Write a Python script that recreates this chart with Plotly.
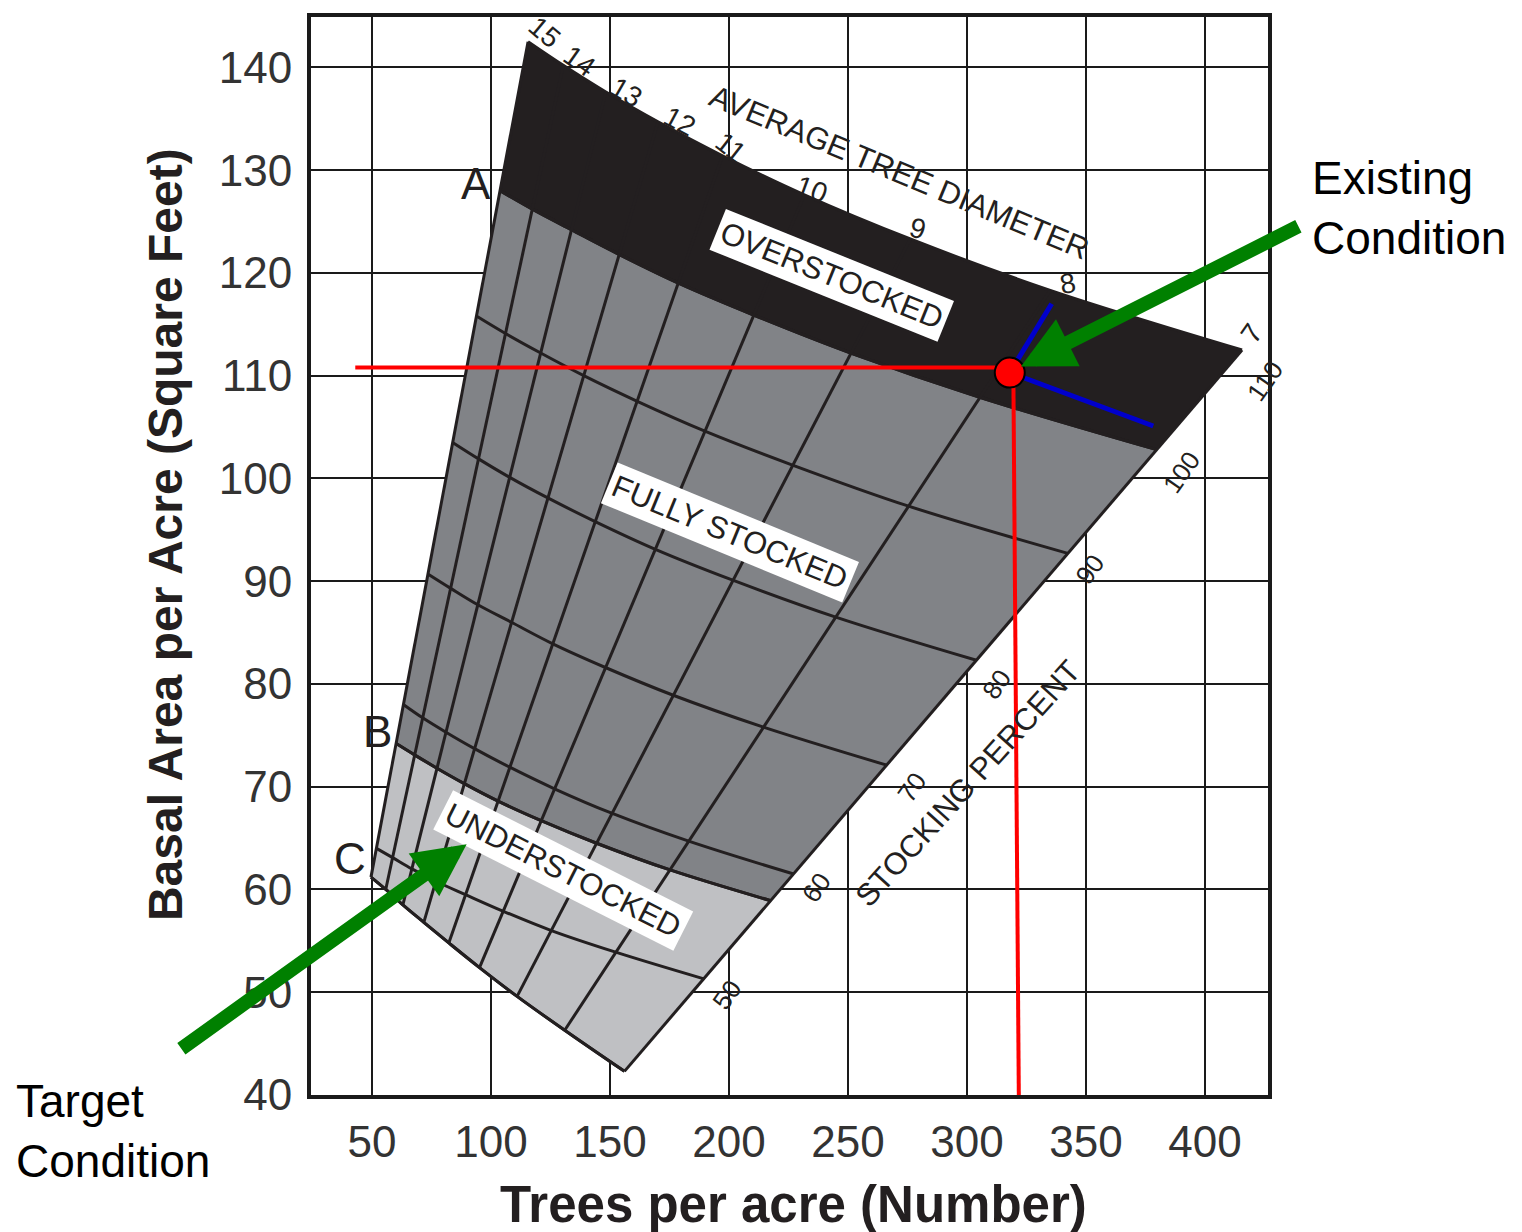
import plotly.graph_objects as go

# ---------------- data ----------------
diameters = [15, 14, 13, 12, 11, 10, 9, 8, 7]

# stocking curves: trees per acre (n_*) and basal area (ba_*) at each diameter line
n_110 = [115.6, 130.4, 148.3, 170.2, 197.3, 231.7, 276.2, 335.0, 415.6]
ba_110 = [142.5, 140.2, 137.6, 134.7, 131.4, 127.6, 123.3, 118.3, 112.5]
n_100 = [103.8, 117.4, 133.8, 153.8, 178.8, 210.4, 251.2, 305.4, 379.7]
ba_100 = [128.0, 126.2, 124.2, 121.8, 119.0, 115.9, 112.2, 107.9, 102.8]
n_90 = [93.9, 106.1, 120.9, 139.0, 161.5, 189.9, 226.7, 275.5, 342.4]
ba_90 = [115.8, 114.1, 112.2, 110.0, 107.5, 104.6, 101.3, 97.3, 92.7]
n_80 = [83.9, 94.8, 107.9, 123.9, 143.8, 169.1, 201.6, 244.9, 304.0]
ba_80 = [103.5, 101.9, 100.1, 98.1, 95.8, 93.1, 90.1, 86.5, 82.3]
n_70 = [73.5, 83.1, 94.5, 108.6, 126.0, 148.1, 176.6, 214.5, 266.3]
ba_70 = [90.7, 89.3, 87.7, 86.0, 83.9, 81.6, 78.9, 75.8, 72.1]
n_60 = [63.2, 71.3, 81.1, 93.1, 107.9, 126.7, 151.0, 183.1, 227.2]
ba_60 = [78.0, 76.7, 75.3, 73.7, 71.9, 69.8, 67.4, 64.7, 61.5]
n_b = [60.2, 67.9, 77.3, 88.8, 103.0, 121.1, 144.4, 175.3, 217.6]
ba_b = [74.2, 73.1, 71.8, 70.3, 68.6, 66.7, 64.5, 61.9, 58.9]
n_50 = [51.9, 58.7, 66.8, 76.8, 89.3, 105.0, 125.4, 152.4, 189.5]
ba_50 = [64.0, 63.1, 62.0, 60.8, 59.5, 57.9, 56.0, 53.9, 51.3]
n_c = [49.6, 55.8, 63.0, 71.8, 82.3, 95.2, 111.0, 131.0, 156.1]
ba_c = [61.2, 60.0, 58.5, 56.8, 54.8, 52.4, 49.6, 46.3, 42.3]

stocking_labels = ["110", "100", "90", "80", "70", "60", "50"]

# existing / target conditions
existing_n = [318.0]
existing_ba = [110.3]
target_n = [96.2]
target_ba = [66.1]
red_h_n = [43.0, 318.0]
red_h_ba = [110.8, 110.8]
red_v_n = [319.5, 321.8]
red_v_ba = [110.3, 40.0]
blue_a_n = [318.0, 335.6]
blue_a_ba = [110.3, 117.0]
blue_b_n = [318.0, 378.3]
blue_b_ba = [110.3, 105.1]
arrow_existing = [(439.9, 124.6), (322.7, 110.9)]   # tail, tip
arrow_target = [(-30.7, 44.4), (89.8, 64.4)]         # tail, tip

x_ticks = [50, 100, 150, 200, 250, 300, 350, 400]
y_ticks = [40, 50, 60, 70, 80, 90, 100, 110, 120, 130, 140]

# ---------------- styling ----------------
INK = "#231f20"
MID = "#818387"
LIGHT = "#bfc0c3"
FONT = "Liberation Sans, Arial, Helvetica, sans-serif"

fig = go.Figure()

def curve(xs, ys, fill=None, fillcolor=None, width=3):
    fig.add_trace(go.Scatter(
        x=xs, y=ys, mode="lines", fill=fill, fillcolor=fillcolor,
        line=dict(color=INK, width=width, shape="spline", smoothing=1),
        hoverinfo="skip", showlegend=False))

# shaded bands (each filled to the previous curve)
curve(n_c, ba_c)
curve(n_b, ba_b, fill="tonexty", fillcolor=LIGHT)
curve(n_100, ba_100, fill="tonexty", fillcolor=MID)
curve(n_110, ba_110, fill="tonexty", fillcolor=INK)

# stocking percent curves on top
for xs, ys in [(n_90, ba_90), (n_80, ba_80), (n_70, ba_70), (n_60, ba_60),
               (n_b, ba_b), (n_50, ba_50), (n_c, ba_c), (n_100, ba_100)]:
    curve(xs, ys)

# diameter lines (straight, from top curve to bottom curve)
for i, d in enumerate(diameters):
    fig.add_trace(go.Scatter(
        x=[n_110[i], n_c[i]], y=[ba_110[i], ba_c[i]], mode="lines",
        line=dict(color=INK, width=3), hoverinfo="skip", showlegend=False))

# red reference lines, blue lines
fig.add_trace(go.Scatter(x=red_h_n, y=red_h_ba, mode="lines",
                         line=dict(color="#ff0000", width=4), showlegend=False, hoverinfo="skip"))
fig.add_trace(go.Scatter(x=red_v_n, y=red_v_ba, mode="lines",
                         line=dict(color="#ff0000", width=4), showlegend=False, hoverinfo="skip"))
fig.add_trace(go.Scatter(x=blue_a_n, y=blue_a_ba, mode="lines",
                         line=dict(color="#0000cc", width=5), showlegend=False, hoverinfo="skip"))
fig.add_trace(go.Scatter(x=blue_b_n, y=blue_b_ba, mode="lines",
                         line=dict(color="#0000cc", width=5), showlegend=False, hoverinfo="skip"))

# points
fig.add_trace(go.Scatter(x=existing_n, y=existing_ba, mode="markers",
                         marker=dict(color="#ff0000", size=30, line=dict(color="black", width=2)),
                         showlegend=False, hoverinfo="skip"))
fig.add_trace(go.Scatter(x=target_n, y=target_ba, mode="markers",
                         marker=dict(color="#ffff00", size=28, line=dict(color="black", width=2)),
                         showlegend=False, hoverinfo="skip"))

ann = []

def txt(x, y, text, size, angle=0, color=INK, bg=None, family=FONT, pad=1):
    d = dict(x=x, y=y, xref="x", yref="y", text=text, showarrow=False,
             textangle=angle, font=dict(family=family, size=size, color=color),
             xanchor="center", yanchor="middle")
    if bg:
        d.update(bgcolor=bg, borderpad=pad)
    ann.append(d)

# diameter labels along the top edge
diam_pos = [(122.7, 143.4, 40), (137.4, 140.6, 35), (157.1, 137.6, 30), (179.4, 134.7, 28),
            (200.8, 132.2, 38), (234.9, 128.1, 20), (279.4, 124.3, 15), (342.4, 119.0, -10),
            (419.7, 114.1, -55)]
for d, (x, y, a) in zip(diameters, diam_pos):
    txt(x, y, str(d), 28, a)

# stocking labels along the 7-inch line
stock_pos = [(425.2, 109.5), (390.3, 100.6), (351.7, 91.2), (312.6, 80.0),
             (276.9, 70.0), (237.0, 60.2), (199.2, 49.7)]
for s, (x, y) in zip(stocking_labels, stock_pos):
    txt(x, y, s, 26, -55)

txt(271.8, 129.8, "AVERAGE TREE DIAMETER", 31, 22.5)
txt(300.4, 70.3, "STOCKING PERCENT", 31, -48)
txt(243.3, 119.7, "OVERSTOCKED", 31, 22, bg="white", pad=4)
txt(200.4, 94.75, "FULLY STOCKED", 31, 22.4, bg="white", pad=4)
txt(130.3, 61.8, "UNDERSTOCKED", 31, 26.8, bg="white", pad=4)
txt(93.7, 128.7, "A", 44)
txt(52.5, 75.4, "B", 44)
txt(40.8, 63.0, "C", 44)

# green arrows
for (tx, ty), (hx, hy) in [arrow_existing, arrow_target]:
    ann.append(dict(x=hx, y=hy, xref="x", yref="y", ax=tx, ay=ty, axref="x", ayref="y",
                    text="", showarrow=True, arrowhead=2, arrowsize=0.75, arrowwidth=14,
                    arrowcolor="#008000", standoff=0))

# outside text
ann.append(dict(x=1.0439, y=0.8226, xref="paper", yref="paper", text="Existing<br>Condition",
                showarrow=False, xanchor="left", yanchor="middle", align="left",
                font=dict(family=FONT, size=46, color="black")))
ann.append(dict(x=-0.3103, y=-0.0333, xref="paper", yref="paper", text="Target<br>Condition",
                showarrow=False, xanchor="left", yanchor="middle", align="left",
                font=dict(family=FONT, size=46, color="black")))

# axis titles
ann.append(dict(x=0.5037, y=-0.1017, xref="paper", yref="paper", text="<b>Trees per acre (Number)</b>",
                showarrow=False, xanchor="center", yanchor="middle",
                font=dict(family=FONT, size=51, color=INK)))
ann.append(dict(x=-0.1526, y=0.5203, xref="paper", yref="paper",
                text="<b>Basal Area per Acre (Square Feet)</b>", textangle=-90,
                showarrow=False, xanchor="center", yanchor="middle",
                font=dict(family=FONT, size=48, color=INK)))

axis_common = dict(showgrid=True, gridcolor="#1a1a1a", gridwidth=2, showline=True,
                   linecolor="#1a1a1a", linewidth=4, mirror=True, zeroline=False, ticks="",
                   tickfont=dict(family=FONT, size=44, color="#333333"))

fig.update_layout(
    width=1514, height=1224,
    margin=dict(l=303, r=254, t=5, b=137),
    plot_bgcolor="white", paper_bgcolor="white",
    showlegend=False,
    annotations=ann,
    xaxis=dict(range=[24.4, 426.5], tickvals=x_ticks, ticktext=[str(v) for v in x_ticks],
               ticklabelstandoff=5, **axis_common),
    yaxis=dict(range=[40, 144.9], tickvals=y_ticks, ticktext=[str(v) for v in y_ticks],
               ticklabelstandoff=6, **axis_common),
)

fig.write_html("out.html")
